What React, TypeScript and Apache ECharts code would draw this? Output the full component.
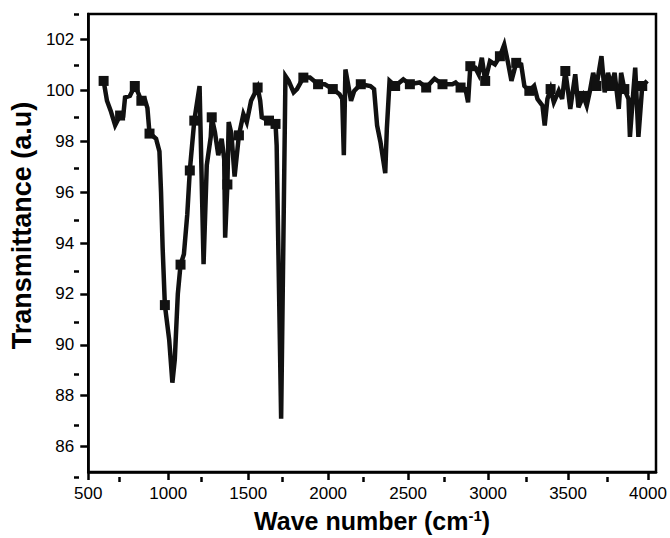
import { useEffect, useRef } from 'react';
import * as echarts from 'echarts';

const wavenumber = [
  596, 617, 640, 668, 699, 719, 730, 760, 791, 812, 832, 853, 870, 883, 905, 924, 945, 955, 965, 979,
  1006, 1026, 1041, 1060, 1077, 1098, 1119, 1135, 1163, 1196, 1221, 1241, 1266, 1272, 1292, 1313, 1334, 1350, 1356, 1370,
  1378, 1395, 1415, 1442, 1470, 1491, 1518, 1559, 1575, 1585, 1630, 1671, 1678, 1706, 1733, 1753, 1784, 1805, 1845, 1886,
  1937, 1979, 2029, 2071, 2088, 2098, 2108, 2143, 2163, 2204, 2264, 2287, 2306, 2327, 2357, 2367, 2384, 2419, 2470, 2511,
  2572, 2613, 2665, 2715, 2777, 2797, 2828, 2859, 2875, 2889, 2920, 2941, 2961, 2982, 3012, 3043, 3074, 3101, 3125, 3146,
  3176, 3207, 3227, 3258, 3288, 3309, 3340, 3354, 3371, 3391, 3411, 3442, 3463, 3483, 3504, 3514, 3545, 3565, 3596, 3617,
  3637, 3657, 3678, 3709, 3729, 3750, 3770, 3791, 3817, 3832, 3852, 3878, 3887, 3903, 3920, 3940, 3964, 3995,
];

const transmittance = [
  100.37, 99.59, 99.2, 98.63, 99.01, 99.01, 99.72, 99.78, 100.17, 99.9, 99.59, 99.66, 99.3, 98.3, 98.2, 98.1, 97.6, 96.0, 93.82, 91.56,
  90.2, 88.51, 89.42, 92.0, 93.15, 93.56, 95.12, 96.85, 98.81, 100.17, 93.17, 97.06, 98.17, 98.94, 98.36, 97.45, 98.1, 97.3, 94.21, 96.3,
  98.75, 98.3, 96.61, 98.23, 99.07, 98.75, 99.59, 100.11, 99.6, 98.94, 98.81, 98.68, 97.84, 87.09, 100.56, 100.37, 99.92, 100.05, 100.5, 100.5,
  100.24, 100.24, 100.05, 99.85, 99.66, 97.45, 100.82, 99.59, 99.98, 100.24, 100.17, 100.05, 98.62, 97.97, 96.74, 98.49, 100.37, 100.17, 100.43, 100.24,
  100.31, 100.11, 100.46, 100.24, 100.24, 100.31, 100.11, 100.05, 99.53, 100.95, 100.89, 100.63, 101.28, 100.37, 101.15, 101.02, 101.34, 101.79, 101.08, 100.37,
  101.08, 101.02, 100.17, 99.98, 100.17, 99.66, 99.4, 98.62, 99.66, 100.05, 99.53, 99.98, 99.66, 100.76, 99.78, 99.27, 100.63, 99.33, 99.78, 99.4,
  99.98, 100.69, 100.17, 101.34, 99.92, 100.69, 100.17, 100.69, 99.27, 100.69, 100.05, 99.66, 98.17, 99.53, 100.89, 98.17, 100.17, 100.37,
];

const markerWavenumbers = [
  596, 699, 791, 832, 883, 979, 1077, 1135, 1163, 1272, 1370, 1442, 1559, 1630, 1671, 1845, 1937, 2029, 2204, 2419,
  2511, 2613, 2715, 2828, 2889, 2982, 3074, 3176, 3258, 3391, 3483, 3596, 3678, 3770, 3852, 3964,
];

const xMajorTicks = [500, 1000, 1500, 2000, 2500, 3000, 3500, 4000];
const xMinorTicks = [750, 1250, 1750, 2250, 2750, 3250, 3750];
const yMajorTicks = [86, 88, 90, 92, 94, 96, 98, 100, 102];
const yMinorTicks = [85, 87, 89, 91, 93, 95, 97, 99, 101, 103];

const X_MIN = 500;
const X_MAX = 4050;
const Y_MIN = 85;
const Y_MAX = 103;

export default function App() {
  const ref = useRef<HTMLDivElement>(null);

  useEffect(() => {
    if (!ref.current) return;
    const chart = echarts.init(ref.current, null, { renderer: 'svg' });
    const lineData = wavenumber.map((w, i) => [w, transmittance[i]]);
    const markerData = markerWavenumbers.map((w) => [w, transmittance[wavenumber.indexOf(w)]]);
    const font = "'Liberation Sans', Arial, sans-serif";
    const black = '#000';
    const gridRect = { left: 79, right: 14, top: 14, bottom: 61 };
    const blackLine = { color: black, width: 2.5, opacity: 1 };
    const minorLine = { color: black, width: 2.5, opacity: 1, type: 'solid' };

    chart.setOption({
      animation: false,
      backgroundColor: '#fff',
      grid: [
        { ...gridRect, show: true, borderColor: black, borderWidth: 2.5, backgroundColor: 'transparent', z: 1 },
        { ...gridRect, show: false, z: 5 },
      ],
      xAxis: [
        {
          type: 'value', gridIndex: 0, min: X_MIN, max: X_MAX, position: 'bottom',
          axisLine: { show: true, onZero: false, lineStyle: blackLine },
          splitLine: { show: false },
          axisTick: { show: true, customValues: xMajorTicks, length: 8, lineStyle: blackLine },
          axisLabel: {
            customValues: xMajorTicks, color: black, fontSize: 17, fontFamily: font, margin: 13,
            formatter: (v: number) => String(v),
          },
          name: 'Wave number (cm{sup|-1})',
          nameLocation: 'middle',
          nameGap: 36,
          nameTextStyle: {
            fontSize: 25, fontWeight: 'bold', fontFamily: font, color: black,
            rich: { sup: { fontSize: 15, fontWeight: 'bold', fontFamily: font, color: black, verticalAlign: 'top' } },
          },
        },
        {
          type: 'value', gridIndex: 1, min: X_MIN, max: X_MAX, position: 'bottom', z: 6,
          axisLine: { show: false, onZero: false },
          splitLine: { show: false },
          axisTick: { show: true, customValues: xMinorTicks, length: 5, lineStyle: minorLine },
          axisLabel: { show: false },
        },
      ],
      yAxis: [
        {
          type: 'value', gridIndex: 0, min: Y_MIN, max: Y_MAX, position: 'left',
          axisLine: { show: true, onZero: false, lineStyle: blackLine },
          splitLine: { show: false },
          axisTick: { show: true, customValues: yMajorTicks, length: 8, lineStyle: blackLine },
          axisLabel: { customValues: yMajorTicks, color: black, fontSize: 17, fontFamily: font, margin: 14 },
          name: 'Transmittance (a.u)',
          nameLocation: 'middle',
          nameGap: 44,
          nameRotate: 90,
          nameTextStyle: { fontSize: 27, fontWeight: 'bold', fontFamily: font, color: black, padding: [0, 0, 0, 35] },
        },
        {
          type: 'value', gridIndex: 1, min: Y_MIN, max: Y_MAX, position: 'left', z: 6,
          axisLine: { show: false, onZero: false },
          splitLine: { show: false },
          axisTick: { show: true, customValues: yMinorTicks, length: 5, lineStyle: minorLine },
          axisLabel: { show: false },
        },
      ],
      series: [
        {
          type: 'line', xAxisIndex: 0, yAxisIndex: 0, data: lineData,
          symbol: 'none', lineStyle: { color: '#111', width: 4.5, join: 'miter', opacity: 1 }, z: 3,
        },
        {
          type: 'scatter', xAxisIndex: 0, yAxisIndex: 0, data: markerData,
          symbol: 'rect', symbolSize: 10, itemStyle: { color: '#111', opacity: 1 }, z: 4,
        },
      ],
    });

    return () => chart.dispose();
  }, []);

  return <div ref={ref} style={{ position: 'fixed', left: 0, top: 0, width: 670, height: 538 }} />;
}
